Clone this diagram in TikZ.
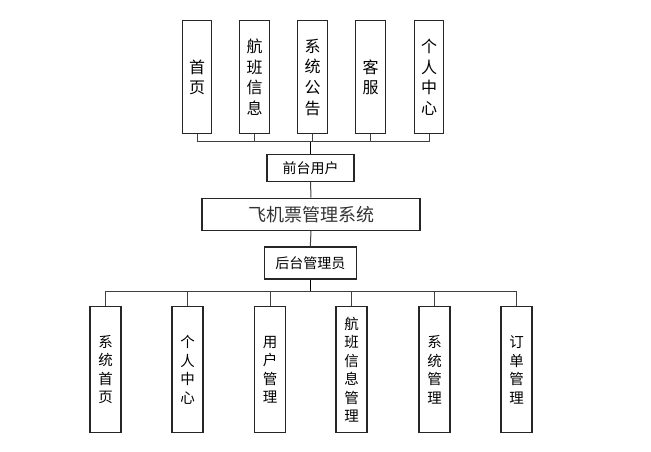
\documentclass[tikz,border=0pt]{standalone}
\usepackage{fontspec}
\setmainfont{Noto Sans CJK SC}
\begin{document}
\begin{tikzpicture}[x=1pt,y=-1pt,
  topbox/.style={draw=black!85,line width=1.1pt,minimum width=29.5pt,minimum height=113pt,inner sep=0pt,align=center,font={\fontsize{16}{20.7}\selectfont}},
  botbox/.style={draw=black!85,line width=1.1pt,minimum width=31pt,minimum height=126pt,inner sep=0pt,align=center,font={\fontsize{14.5}{18.5}\selectfont}},
  midbox/.style={draw=black!85,line width=1.1pt,inner sep=0pt,align=center},
  conn/.style={draw=black!75,line width=1pt}]
\useasboundingbox (0,0) rectangle (651,451);
% top boxes
\node[topbox] (t1) at (197,77.3) {首\\页};
\node[topbox] (t2) at (254.5,77.3) {航\\班\\信\\息};
\node[topbox] (t3) at (312.5,77.3) {系\\统\\公\\告};
\node[topbox] (t4) at (370.5,77.3) {客\\服};
\node[topbox] (t5) at (429,77.3) {个\\人\\中\\心};
% middle
\node[midbox,minimum width=87pt,minimum height=27.5pt,font={\fontsize{14}{16}\selectfont}] (front) at (310.5,167.8) {前台用户};
\node[midbox,minimum width=218pt,minimum height=32.5pt,font={\fontsize{18}{20}\selectfont},text=black!80] (sys) at (311,214.3) {飞机票管理系统};
\node[midbox,minimum width=92pt,minimum height=32pt,font={\fontsize{14}{16}\selectfont}] (back) at (310.3,263) {后台管理员};
% bottom boxes
\node[botbox] (b1) at (105.5,369.7) {系\\统\\首\\页};
\node[botbox] (b2) at (187.5,369.7) {个\\人\\中\\心};
\node[botbox] (b3) at (270,369.7) {用\\户\\管\\理};
\node[botbox] (b4) at (351.5,369.7) {航\\班\\信\\息\\管\\理};
\node[botbox] (b5) at (434.5,369.7) {系\\统\\管\\理};
\node[botbox] (b6) at (516.5,369.7) {订\\单\\管\\理};
% top bus
\coordinate (busT) at (front.north |- 0,141.7);
\draw[conn] (t1.south) |- (busT);
\draw[conn] (t5.south) |- (busT);
\draw[conn] (t2.south) -- (t2.south |- busT);
\draw[conn] (t3.south) -- (t3.south |- busT);
\draw[conn] (t4.south) -- (t4.south |- busT);
\draw[conn,draw=black,line width=1.3pt] (busT) -- (front.north);
\draw[conn] (front.south) -- (sys.north);
\draw[conn] (sys.south) -- (back.north);
% bottom bus
\coordinate (busB) at (back.south |- 0,291);
\draw[conn,draw=black,line width=1.3pt] (back.south) -- (busB);
\draw[conn] (b1.north) |- (busB);
\draw[conn] (b6.north) |- (busB);
\draw[conn] (b2.north) -- (b2.north |- busB);
\draw[conn] (b3.north) -- (b3.north |- busB);
\draw[conn] (b4.north) -- (b4.north |- busB);
\draw[conn] (b5.north) -- (b5.north |- busB);
\end{tikzpicture}
\end{document}
